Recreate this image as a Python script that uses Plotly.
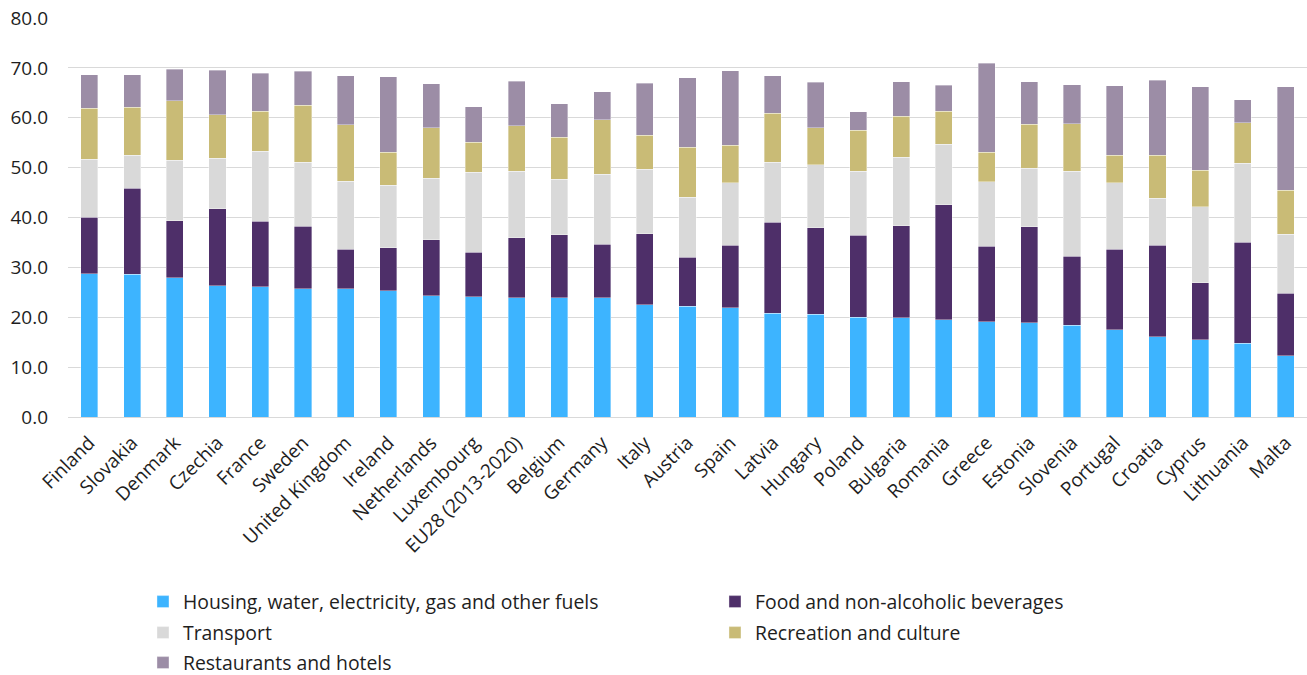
import plotly.graph_objects as go

countries = ["Finland", "Slovakia", "Denmark", "Czechia", "France", "Sweden", "United Kingdom",
             "Ireland", "Netherlands", "Luxembourg", "EU28 (2013-2020)", "Belgium", "Germany",
             "Italy", "Austria", "Spain", "Latvia", "Hungary", "Poland", "Bulgaria", "Romania",
             "Greece", "Estonia", "Slovenia", "Portugal", "Croatia", "Cyprus", "Lithuania", "Malta"]

housing = [28.7, 28.6, 27.9, 26.3, 26.1, 25.7, 25.7, 25.3, 24.3, 24.1, 23.9, 23.9, 23.9, 22.5,
           22.2, 21.9, 20.8, 20.6, 20.0, 19.9, 19.5, 19.1, 18.9, 18.4, 17.5, 16.1, 15.5, 14.8, 12.3]
food = [11.4, 17.3, 11.4, 15.5, 13.1, 12.5, 7.9, 8.6, 11.2, 8.9, 12.0, 12.6, 10.7, 14.2,
        9.8, 12.5, 18.2, 17.3, 16.4, 18.4, 23.1, 15.1, 19.2, 13.8, 16.1, 18.3, 11.4, 20.2, 12.5]
transport = [11.6, 6.6, 12.2, 10.1, 14.1, 12.9, 13.7, 12.6, 12.4, 16.1, 13.4, 11.2, 14.1, 13.0,
             12.1, 12.6, 12.1, 12.7, 12.9, 13.8, 12.1, 13.0, 11.8, 17.1, 13.4, 9.5, 15.3, 15.9, 11.8]
recreation = [10.2, 9.6, 11.9, 8.7, 8.0, 11.4, 11.3, 6.6, 10.1, 6.0, 9.1, 8.4, 10.9, 6.8,
              10.0, 7.5, 9.8, 7.4, 8.2, 8.2, 6.6, 5.9, 8.8, 9.5, 5.5, 8.6, 7.3, 8.1, 8.9]
restaurants = [6.7, 6.5, 6.3, 8.9, 7.6, 6.8, 9.8, 15.1, 8.8, 7.1, 8.9, 6.7, 5.6, 10.4,
               13.9, 14.9, 7.5, 9.1, 3.7, 6.9, 5.2, 17.8, 8.5, 7.8, 13.9, 15.0, 16.7, 4.6, 20.7]

series_names = ["Housing, water, electricity, gas and other fuels", "Food and non-alcoholic beverages",
                "Transport", "Recreation and culture", "Restaurants and hotels"]
series_values = [housing, food, transport, recreation, restaurants]
colors = ["#3DB4FF", "#4E2F69", "#D9D9D9", "#C9BB76", "#9C8DA6"]
legend_ids = ["legend", "legend", "legend2", "legend2", "legend3"]

tick_vals = [0, 10, 20, 30, 40, 50, 60, 70, 80]

FONT = "Open Sans"
TXT = "#1E1E1E"
FS = 19

fig = go.Figure()
for name, vals, col, lg in zip(series_names, series_values, colors, legend_ids):
    fig.add_trace(go.Bar(
        x=countries, y=vals, name=name, legend=lg,
        marker=dict(color=col, line=dict(color="rgba(255,255,255,0.6)", width=0.6)),
    ))


def leg(y):
    return dict(
        orientation="h",
        xref="container", yref="container",
        x=0.1094, xanchor="left",
        y=y, yanchor="middle",
        entrywidth=527, entrywidthmode="pixels",
        font=dict(family=FONT, size=19.4, color=TXT),
        traceorder="normal",
        bgcolor="rgba(0,0,0,0)",
    )


fig.update_layout(
    barmode="stack",
    bargap=0.60,
    width=1307, height=675,
    margin=dict(l=68, r=0, t=18, b=258, autoexpand=False),
    paper_bgcolor="white", plot_bgcolor="white",
    font=dict(family=FONT, size=FS, color=TXT),
    showlegend=True,
    legend=leg(1 - 602 / 675),
    legend2=leg(1 - 633 / 675),
    legend3=leg(1 - 663 / 675),
    xaxis=dict(
        tickangle=-45,
        tickfont=dict(family=FONT, size=FS, color=TXT),
        showgrid=False, showline=False, ticks="",
        ticklabelstandoff=10,
        automargin=False,
    ),
    yaxis=dict(
        range=[0, 80],
        tickvals=tick_vals,
        tickformat=".1f",
        tickfont=dict(family=FONT, size=FS, color=TXT),
        showgrid=True, gridcolor="#D9D9D9", gridwidth=1,
        zeroline=True, zerolinecolor="#D9D9D9", zerolinewidth=1,
        showline=False, ticks="",
        ticklabelstandoff=19,
        automargin=False,
    ),
)

fig.write_html("out.html")
